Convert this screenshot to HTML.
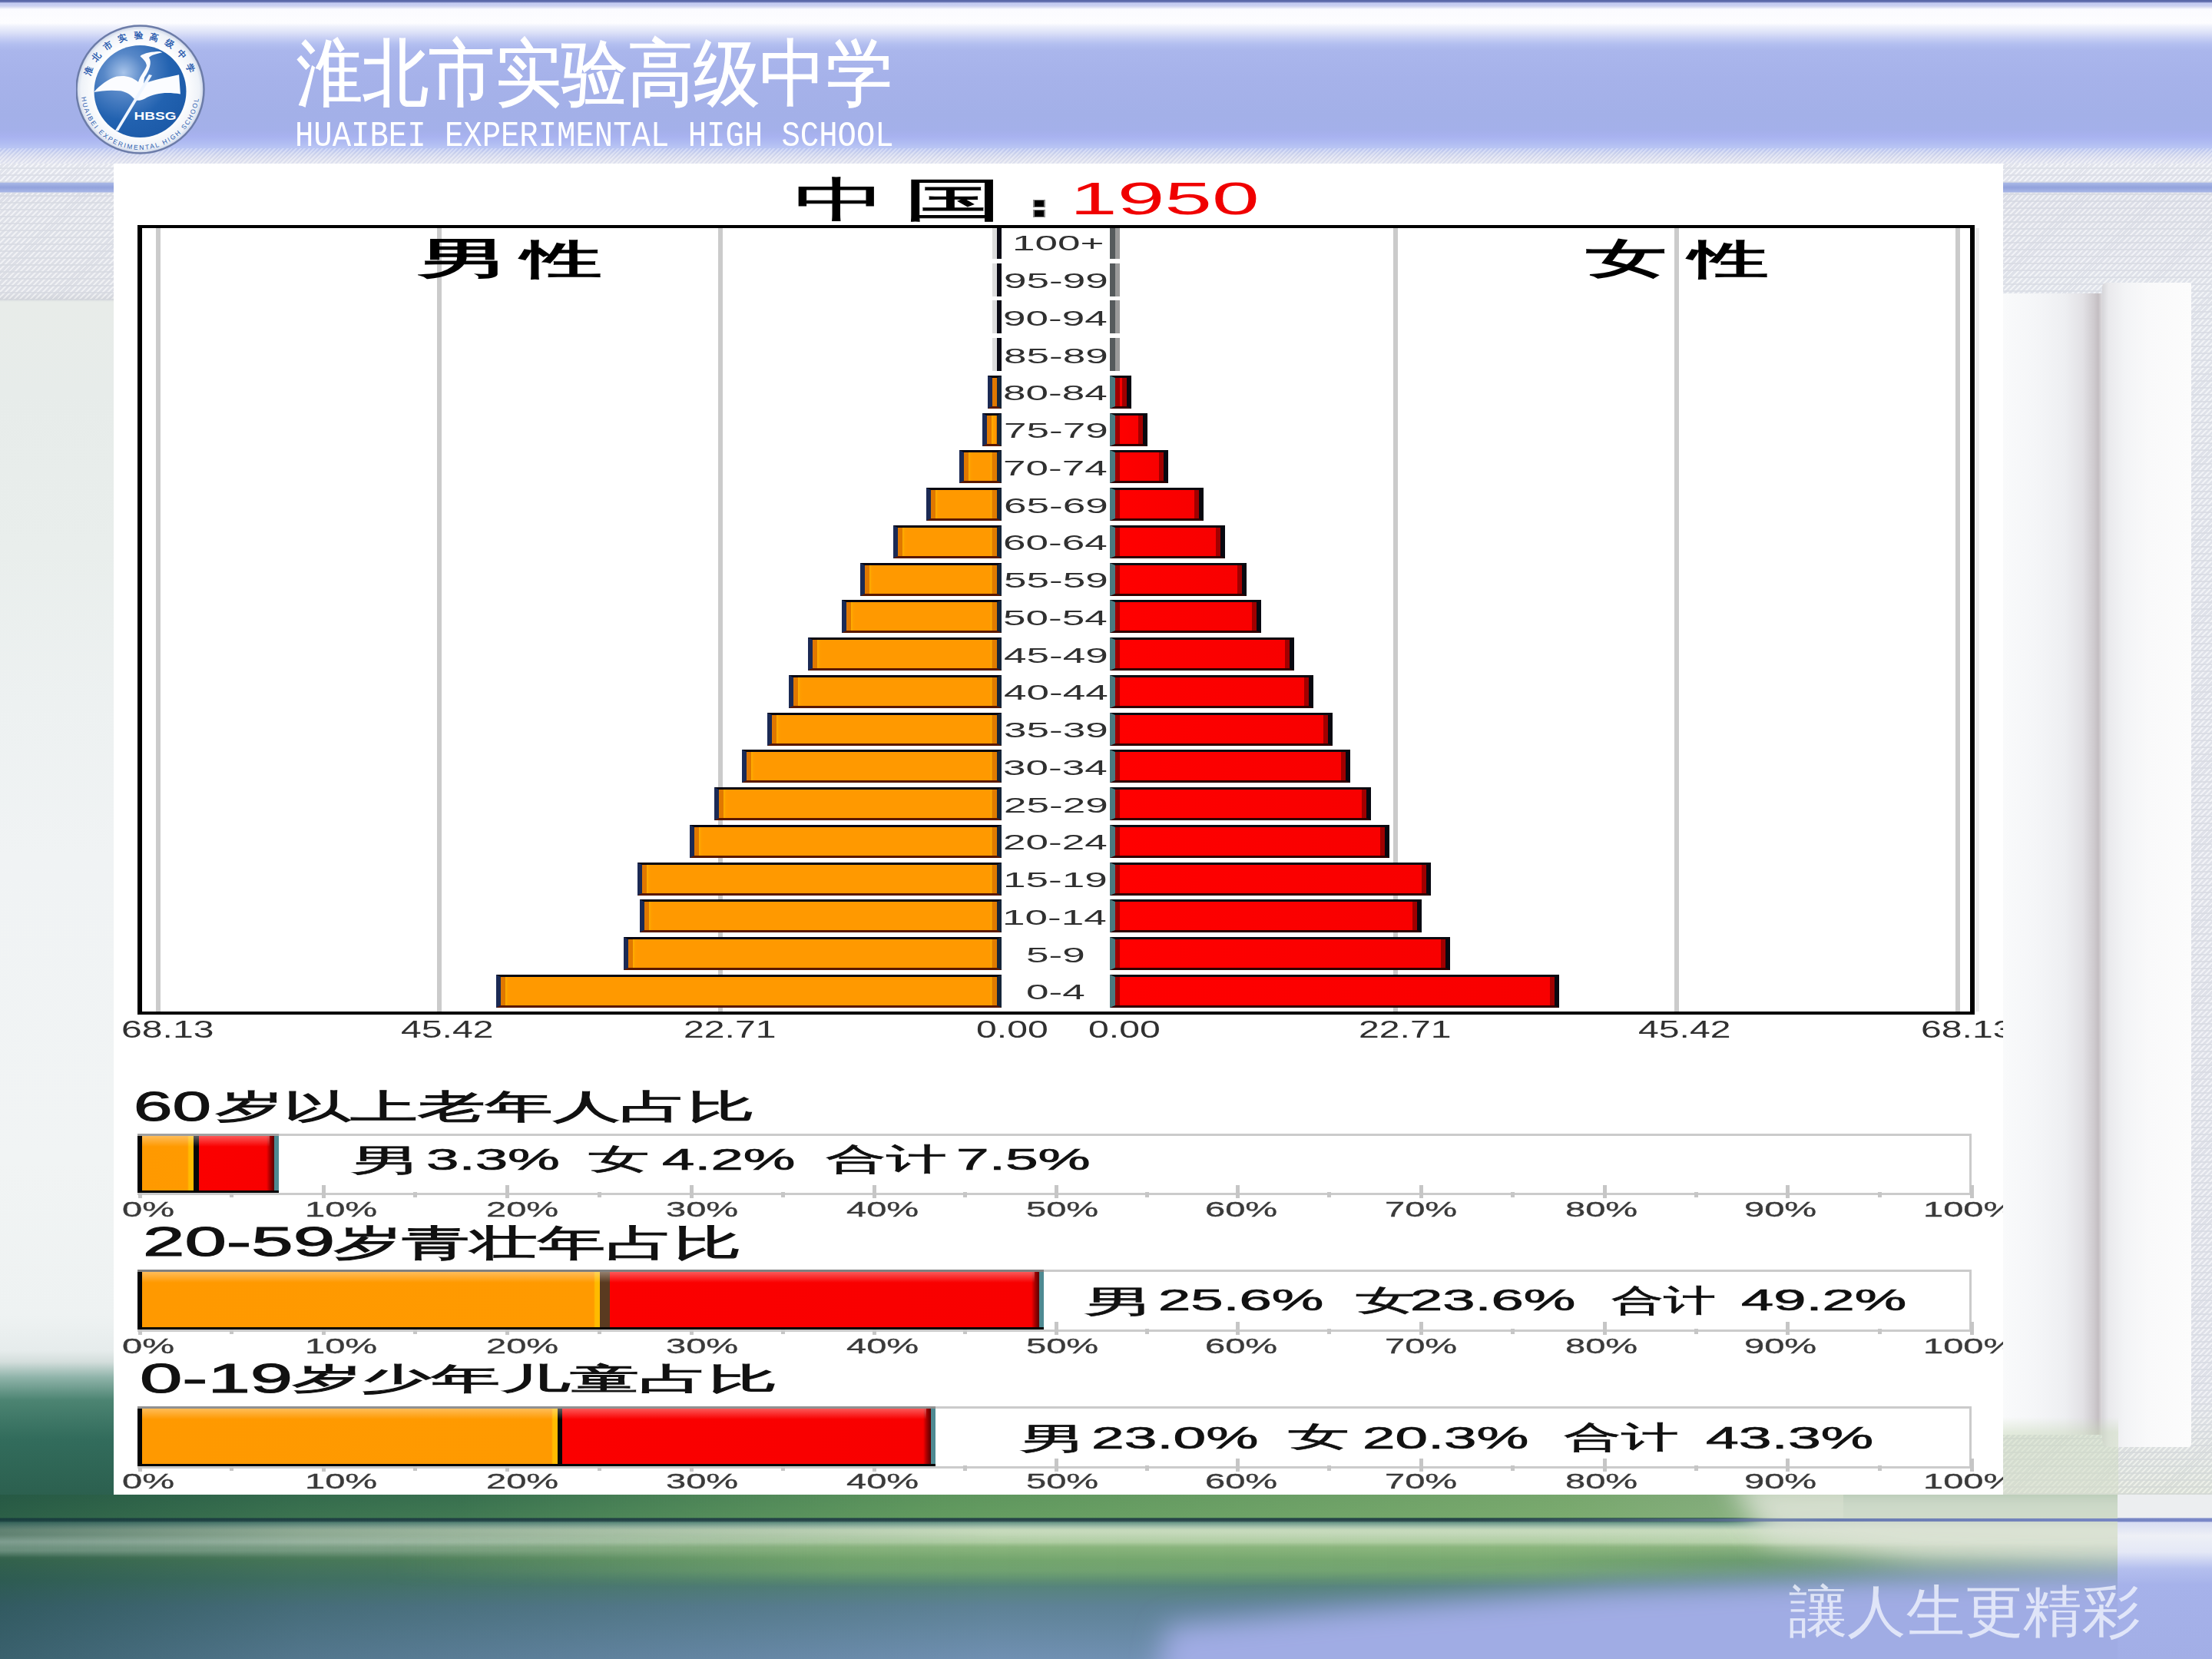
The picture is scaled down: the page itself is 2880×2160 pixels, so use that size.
<!DOCTYPE html>
<html><head><meta charset="utf-8"><title>中国 1950 人口金字塔</title>
<style>
html,body{margin:0;padding:0;}
body{width:2880px;height:2160px;position:relative;overflow:hidden;background:#e9ecee;font-family:"Liberation Sans",sans-serif;}
.a{position:absolute;}
.t{position:absolute;line-height:1;white-space:nowrap;transform-origin:0 0;}
/* header */
#hdr{left:0;top:0;width:2880px;height:216px;
 background:linear-gradient(to bottom,#5a68a8 0,#5a68a8 2px,#8890c8 3px,#c4ccf2 4px,#c8cef0 7px,#d8dcf2 9px,#fbfbff 12px,#fdfdff 30px,#f0f2fc 34px,#dde2f8 42px,#c6cef4 50px,#b2bef0 58px,#aab6ec 66px,#a6b2ea 100px,#a3b0e8 150px,#a4b0ea 170px,#a8b2f0 178px,#b0bcf2 186px,#bcc8f4 194px,#d0d6f0 200px,#e0e2f0 207px,#eceef4 216px);}
#hdrhatch{left:0;top:193px;width:2880px;height:22px;opacity:.3;
 background:repeating-linear-gradient(135deg,rgba(255,255,255,.9) 0 2px,rgba(180,188,220,.6) 2px 4px);}
/* side strips */
#lside{left:0;top:213px;width:148px;height:1733px;
 background:linear-gradient(to bottom,#eceef4 0,#e8eaf2 24px,#a9b8e6 25px,#92a2dc 31px,#a8b6e6 37px,#e2e4ec 38px,#e6e8ee 60px,#e3e5ea 168px,#d6d8dc 176px,#e8ece9 180px,#e7ecea 300px,#e9eeec 500px,#edf1f1 700px,#f0f3f4 900px,#f1f4f4 1300px,#eef2f2 1500px,#e6ecec 1545px,#d4dedc 1560px,#90b4aa 1580px,#4c8472 1610px,#326c5c 1660px,#2c604f 1733px);}
#rside{left:2608px;top:213px;width:272px;height:1733px;
 background:linear-gradient(to bottom,#eceef4 0,#e8eaf2 24px,#a9b8e6 25px,#92a2dc 31px,#a8b6e6 37px,#e2e4ec 38px,#e8eaf0 150px,#e6e8ee 1600px,#dfe4dc 1700px,#dde3d4 1733px);}
#hatchL,#hatchR,#hatchL2,#hatchR2{opacity:.45;background:repeating-linear-gradient(0deg,rgba(200,204,214,.8) 0 2px,rgba(255,255,255,0) 2px 9px),repeating-linear-gradient(135deg,rgba(255,255,255,.9) 0 2px,rgba(205,208,220,.7) 2px 5px);}
#hatchL{left:0;top:251px;width:148px;height:140px;}
#hatchL2{left:0;top:213px;width:148px;height:25px;}
#hatchR2{left:2608px;top:213px;width:272px;height:25px;}
#hatchR{left:2608px;top:251px;width:272px;height:1695px;}
#scA{left:2608px;top:382px;width:129px;height:1486px;
 background:linear-gradient(to right,#f9fafb 0,#f5f6f8 40px,#eeeff2 80px,#e2e1e5 104px,#cfcbcf 118px,#c4bec2 124px,#dedcdf 129px);}
#scB{left:2737px;top:368px;width:116px;height:1516px;border-radius:6px 2px 4px 10px;
 background:linear-gradient(to right,#d6d5d9 0,#e9e9ec 8px,#f3f4f6 30px,#f9f9fa 60px,#fcfcfc 116px);}
#scAg{left:2608px;top:1845px;width:150px;height:101px;
 background:linear-gradient(to bottom,rgba(200,216,184,0) 0,rgba(200,216,184,.45) 20px,rgba(214,222,204,.55) 101px);}
/* bottom band */
#botsvg{left:0;top:1946px;width:2880px;height:214px;}
/* white panel */
#panel{left:148px;top:213px;width:2460px;height:1733px;background:#fff;}
/* logo */
#logo{left:99px;top:31px;width:168px;height:171px;}
/* pyramid */
#frame{left:179px;top:293px;width:2380px;height:1020px;border:solid #000;border-width:4px 6px 4px 6px;}
.grid{position:absolute;top:297px;width:6px;height:1020px;background:#cbcbcb;}
.bl{position:absolute;box-sizing:border-box;border-style:solid;border-width:3px 6px 3px 6px;border-color:#050510 #16263a #5a1800 #1b2a55;
 background:linear-gradient(to right,#e07800 0,#e07800 6px,#ffb000 6px,#ff9c00 9px,#ff9900 12px,#ff9900 calc(100% - 9px),#ffb000 calc(100% - 7px),#e07c00 calc(100% - 6px));}
.br{position:absolute;box-sizing:border-box;border-style:solid;border-width:3px 6px 3px 7px;border-color:#0a0a10 #080810 #300000 #4a7a80;
 background:linear-gradient(to right,#a00000 0,#a00000 6px,#ff0000 6px,#f80000 calc(100% - 6px),#a00000 calc(100% - 6px));}
.zl{position:absolute;left:1292px;width:12px;background:linear-gradient(to right,#dcdcdc 0,#dcdcdc 6px,#0a0a14 6px);}
.zr{position:absolute;left:1445px;width:13px;background:linear-gradient(to right,#555a5c 0,#555a5c 7px,#9a9a9a 7px);}
/* bottom boxes */
.box{position:absolute;left:179px;width:2385px;border:3px solid #cbcbcb;border-left:0;}
.tk{position:absolute;width:5px;background:#c6c6c6;}
.sbo{position:absolute;left:179px;box-sizing:border-box;border-style:solid;border-width:3px 0 3px 6px;border-color:#6a6a6a #000 #000 #000;
 background:linear-gradient(to right,#ff9900 0,#ff9900 calc(100% - 6px),#ffb000 calc(100% - 6px),#ffb000 calc(100% - 4px),#1a1000 calc(100% - 4px));}
.sbr{position:absolute;box-sizing:border-box;border-style:solid;border-width:3px 6px 3px 4px;border-color:#6a1010 #4a7a80 #200000 #200000;
 background:linear-gradient(to right,#7a0000 0,#7a0000 4px,#ff0000 4px,#fa0000 calc(100% - 6px),#b00000 calc(100% - 6px));}
</style></head>
<body>
<div class="a" id="hdr"></div>
<div class="a" id="hdrhatch"></div>
<div class="a" id="lside"></div>
<div class="a" id="rside"></div>
<div class="a" id="hatchL"></div>
<div class="a" id="hatchR"></div>
<div class="a" id="hatchL2"></div>
<div class="a" id="hatchR2"></div>
<div class="a" id="scA"></div>
<div class="a" id="scB"></div>
<div class="a" id="scAg"></div>
<svg class="a" id="botsvg" viewBox="0 0 2880 214">
 <defs>
  <linearGradient id="bg1" x1="0" y1="0" x2="0" y2="1">
   <stop offset="0" stop-color="#447f56"/><stop offset="0.14" stop-color="#508c5b"/>
   <stop offset="0.145" stop-color="#243f44"/><stop offset="0.16" stop-color="#2e4c50"/>
   <stop offset="0.17" stop-color="#6a9888"/><stop offset="0.195" stop-color="#a4c0ac"/>
   <stop offset="0.215" stop-color="#c6dabc"/><stop offset="0.29" stop-color="#c0d6b6"/>
   <stop offset="0.32" stop-color="#8cb084"/><stop offset="0.40" stop-color="#5e9066"/>
   <stop offset="0.52" stop-color="#548474"/><stop offset="0.68" stop-color="#5e8296"/>
   <stop offset="1" stop-color="#7090b2"/>
  </linearGradient>
  <linearGradient id="lft" x1="0" y1="0" x2="1" y2="0">
   <stop offset="0" stop-color="#0e3a36" stop-opacity=".55"/><stop offset="0.3" stop-color="#0e3a36" stop-opacity=".3"/><stop offset="1" stop-color="#0e3a36" stop-opacity="0"/>
  </linearGradient>
  <filter id="bl40" x="-20%" y="-50%" width="140%" height="200%"><feGaussianBlur stdDeviation="35"/></filter>
  <filter id="bl20" x="-20%" y="-50%" width="140%" height="200%"><feGaussianBlur stdDeviation="18"/></filter>
  <filter id="bl6" x="-5%" y="-50%" width="110%" height="200%"><feGaussianBlur stdDeviation="5"/></filter>
 </defs>
 <rect width="2880" height="214" fill="url(#bg1)"/>
 <rect width="1300" height="214" fill="url(#lft)"/>
 <linearGradient id="lb" x1="0" y1="0" x2="1" y2="0"><stop offset="0" stop-color="#b8d0c8" stop-opacity=".35"/><stop offset="0.5" stop-color="#b8d0c8" stop-opacity=".2"/><stop offset="1" stop-color="#c4d8d0" stop-opacity="0"/></linearGradient>
 <rect x="0" y="52" width="1400" height="30" fill="url(#lb)" mask="url(#mlb)"/>
 <linearGradient id="lbv" x1="0" y1="0" x2="0" y2="1"><stop offset="0" stop-color="#fff" stop-opacity="0"/><stop offset="0.3" stop-color="#fff"/><stop offset="0.7" stop-color="#fff"/><stop offset="1" stop-color="#fff" stop-opacity="0"/></linearGradient>
 <mask id="mlb"><rect x="0" y="52" width="1400" height="30" fill="url(#lbv)"/></mask>
 <!-- brighter green middle -->
 <linearGradient id="gm" x1="0" y1="0" x2="1" y2="0"><stop offset="0" stop-color="#86b873" stop-opacity="0"/><stop offset="0.3" stop-color="#86b873" stop-opacity=".5"/><stop offset="0.75" stop-color="#8cbc78" stop-opacity=".55"/><stop offset="1" stop-color="#8cbc78" stop-opacity="0"/></linearGradient>
 <linearGradient id="gmv" x1="0" y1="0" x2="0" y2="1"><stop offset="0" stop-color="#fff" stop-opacity="0"/><stop offset="0.3" stop-color="#fff" stop-opacity="1"/><stop offset="0.7" stop-color="#fff" stop-opacity="1"/><stop offset="1" stop-color="#fff" stop-opacity="0"/></linearGradient>
 <mask id="mv"><rect x="0" y="50" width="2880" height="70" fill="url(#gmv)"/></mask>
 <rect x="500" y="50" width="2000" height="70" fill="url(#gm)" mask="url(#mv)"/>
 <linearGradient id="gt" x1="0" y1="0" x2="1" y2="0"><stop offset="0" stop-color="#7cb066" stop-opacity="0"/><stop offset="0.35" stop-color="#7cb066" stop-opacity=".45"/><stop offset="0.8" stop-color="#98c07c" stop-opacity=".6"/><stop offset="1" stop-color="#b8cca4" stop-opacity=".6"/></linearGradient>
 <rect x="600" y="0" width="1800" height="30" fill="url(#gt)"/>
 <!-- pale right area -->
 <path d="M2250 -20 L2880 -20 L2880 100 L2760 100 L2500 90 L2300 60 Z" fill="#dde3d6" opacity=".9" filter="url(#bl20)"/>
 <!-- periwinkle from bottom right -->
 <path d="M1500 280 L1520 172 L1750 150 L2100 122 L2450 106 L2880 96 L2880 280 Z" fill="#a0ace4" filter="url(#bl20)"/>
 <rect x="2757" y="0" width="123" height="214" fill="url(#rgt)"/>
 <linearGradient id="rgt" x1="0" y1="0" x2="0" y2="1">
   <stop offset="0" stop-color="#eceef0"/><stop offset="0.14" stop-color="#eceef0"/><stop offset="0.145" stop-color="#7a88c8"/><stop offset="0.16" stop-color="#7a88c8"/><stop offset="0.17" stop-color="#d8ddf2"/><stop offset="0.25" stop-color="#eef0f6"/><stop offset="0.35" stop-color="#e4e8f6"/><stop offset="0.45" stop-color="#b4bfee"/><stop offset="0.55" stop-color="#a6b2ea"/><stop offset="1" stop-color="#a2aee6"/>
 </linearGradient>
 <!-- line -->
 <linearGradient id="ln" x1="0" y1="0" x2="1" y2="0"><stop offset="0" stop-color="#56707a" stop-opacity="0"/><stop offset="0.5" stop-color="#6a7cb0"/><stop offset="1" stop-color="#7a88c8"/></linearGradient>
 <rect x="1900" y="31" width="980" height="4" fill="url(#ln)"/>
</svg>
<div class="a" id="panel"></div>

<svg class="a" id="logo" viewBox="0 0 168 171">
 <defs>
  <radialGradient id="lg" cx="0.32" cy="0.3" r="0.85">
   <stop offset="0" stop-color="#a8c4ea"/><stop offset="0.25" stop-color="#5888c8"/><stop offset="0.6" stop-color="#2262b0"/><stop offset="1" stop-color="#1a58a6"/>
  </radialGradient>
  <radialGradient id="lr" cx="0.5" cy="0.5" r="0.5">
   <stop offset="0.7" stop-color="#ffffff"/><stop offset="0.93" stop-color="#eef2f8"/><stop offset="1" stop-color="#c8d2e6"/>
  </radialGradient>
 </defs>
 <circle cx="83.5" cy="85.5" r="83" fill="url(#lr)" stroke="#6c7ca8" stroke-width="2.5"/>
 <circle cx="83.5" cy="88" r="60" fill="url(#lg)"/>
 <path d="M23.2,89.1 C31,80 43,71 53,68.6 C62,67 72,68 81,75.8 C83,68 92,58 91.9,54.1 C91,48 86,45 83.5,42 C88,38 100,36 108.8,36 L112.4,37.2 C104,39 97,41 95,44 C99,50 96,60 89,70 L88,78 C98,74 115,70 134.1,66.2 L135.9,91.5 C120,89 104,89 89.5,97.5 C84,100 79,101 76,98 C72,93 66,89 58.2,87.3 C45,86 33,87 23.2,89.1 Z" fill="#fbfcff"/>
 <path d="M51,139 L55,139.5 L99,67 L95,66 Z" fill="#f0f6ff"/>
 <text x="103" y="124.5" font-family="Liberation Sans" font-weight="bold" font-size="14" fill="#fff" text-anchor="middle" textLength="55" lengthAdjust="spacingAndGlyphs">HBSG</text>
 <path id="arcT" d="M17.8 69.4 A68 68 0 0 1 149.2 69.4" fill="none"/>
 <text font-family="Liberation Sans" font-size="11.5" fill="#2b5cae" font-weight="bold"><textPath href="#arcT" startOffset="1" textLength="172" lengthAdjust="spacing">淮北市实验高级中学</textPath></text>
 <path id="arcB" d="M6.8 93.7 A77 77 0 0 0 160.2 93.7" fill="none"/>
 <text font-family="Liberation Sans" font-size="8.5" fill="#2b5cae"><textPath href="#arcB" startOffset="2" textLength="222" lengthAdjust="spacing">HUAIBEI EXPERIMENTAL HIGH SCHOOL</textPath></text>
</svg>

<!-- pyramid gridlines -->
<div class="grid" style="left:203px"></div>
<div class="grid" style="left:569px"></div>
<div class="grid" style="left:935px"></div>
<div class="grid" style="left:1814px"></div>
<div class="grid" style="left:2180px"></div>
<div class="grid" style="left:2546px"></div>
<div class="a" style="left:2572px;top:297px;width:5px;height:1020px;background:#ececec"></div>
<div class="zl" style="top:293.7px;height:43px"></div>
<div class="zr" style="top:293.7px;height:43px"></div>
<div class="zl" style="top:342.5px;height:43px"></div>
<div class="zr" style="top:342.5px;height:43px"></div>
<div class="zl" style="top:391.2px;height:43px"></div>
<div class="zr" style="top:391.2px;height:43px"></div>
<div class="zl" style="top:440.0px;height:43px"></div>
<div class="zr" style="top:440.0px;height:43px"></div>
<div class="bl" style="left:1286px;top:488.7px;width:18px;height:43px"></div>
<div class="br" style="left:1445px;top:488.7px;width:28px;height:43px"></div>
<div class="bl" style="left:1279px;top:537.5px;width:25px;height:43px"></div>
<div class="br" style="left:1445px;top:537.5px;width:49px;height:43px"></div>
<div class="bl" style="left:1249px;top:586.3px;width:55px;height:43px"></div>
<div class="br" style="left:1445px;top:586.3px;width:76px;height:43px"></div>
<div class="bl" style="left:1206px;top:635.0px;width:98px;height:43px"></div>
<div class="br" style="left:1445px;top:635.0px;width:122px;height:43px"></div>
<div class="bl" style="left:1163px;top:683.8px;width:141px;height:43px"></div>
<div class="br" style="left:1445px;top:683.8px;width:150px;height:43px"></div>
<div class="bl" style="left:1120px;top:732.5px;width:184px;height:43px"></div>
<div class="br" style="left:1445px;top:732.5px;width:178px;height:43px"></div>
<div class="bl" style="left:1096px;top:781.3px;width:208px;height:43px"></div>
<div class="br" style="left:1445px;top:781.3px;width:197px;height:43px"></div>
<div class="bl" style="left:1052px;top:830.1px;width:252px;height:43px"></div>
<div class="br" style="left:1445px;top:830.1px;width:240px;height:43px"></div>
<div class="bl" style="left:1027px;top:878.8px;width:277px;height:43px"></div>
<div class="br" style="left:1445px;top:878.8px;width:265px;height:43px"></div>
<div class="bl" style="left:999px;top:927.6px;width:305px;height:43px"></div>
<div class="br" style="left:1445px;top:927.6px;width:290px;height:43px"></div>
<div class="bl" style="left:966px;top:976.3px;width:338px;height:43px"></div>
<div class="br" style="left:1445px;top:976.3px;width:313px;height:43px"></div>
<div class="bl" style="left:930px;top:1025.1px;width:374px;height:43px"></div>
<div class="br" style="left:1445px;top:1025.1px;width:340px;height:43px"></div>
<div class="bl" style="left:898px;top:1073.9px;width:406px;height:43px"></div>
<div class="br" style="left:1445px;top:1073.9px;width:364px;height:43px"></div>
<div class="bl" style="left:830px;top:1122.6px;width:474px;height:43px"></div>
<div class="br" style="left:1445px;top:1122.6px;width:418px;height:43px"></div>
<div class="bl" style="left:833px;top:1171.4px;width:471px;height:43px"></div>
<div class="br" style="left:1445px;top:1171.4px;width:406px;height:43px"></div>
<div class="bl" style="left:812px;top:1220.1px;width:492px;height:43px"></div>
<div class="br" style="left:1445px;top:1220.1px;width:443px;height:43px"></div>
<div class="bl" style="left:646px;top:1268.9px;width:658px;height:43px"></div>
<div class="br" style="left:1445px;top:1268.9px;width:585px;height:43px"></div>
<div class="a" id="frame"></div>
<!-- colon -->
<div class="a" style="left:1345px;top:260px;width:16px;height:10px;background:#888"></div>
<div class="a" style="left:1347px;top:261px;width:12px;height:8px;background:#000"></div>
<div class="a" style="left:1345px;top:273px;width:16px;height:10px;background:#888"></div>
<div class="a" style="left:1347px;top:274px;width:12px;height:8px;background:#000"></div>
<div class="box" style="top:1476px;height:74.0px"></div>
<div class="tk" style="left:179.5px;top:1543.0px;height:17px"></div>
<div class="tk" style="left:299.0px;top:1552.0px;height:7px"></div>
<div class="tk" style="left:418.5px;top:1543.0px;height:17px"></div>
<div class="tk" style="left:538.0px;top:1552.0px;height:7px"></div>
<div class="tk" style="left:657.5px;top:1543.0px;height:17px"></div>
<div class="tk" style="left:777.5px;top:1552.0px;height:7px"></div>
<div class="tk" style="left:897.5px;top:1543.0px;height:17px"></div>
<div class="tk" style="left:1016.5px;top:1552.0px;height:7px"></div>
<div class="tk" style="left:1135.5px;top:1543.0px;height:17px"></div>
<div class="tk" style="left:1254.0px;top:1552.0px;height:7px"></div>
<div class="tk" style="left:1372.5px;top:1543.0px;height:17px"></div>
<div class="tk" style="left:1490.5px;top:1552.0px;height:7px"></div>
<div class="tk" style="left:1608.5px;top:1543.0px;height:17px"></div>
<div class="tk" style="left:1728.0px;top:1552.0px;height:7px"></div>
<div class="tk" style="left:1847.5px;top:1543.0px;height:17px"></div>
<div class="tk" style="left:1967.0px;top:1552.0px;height:7px"></div>
<div class="tk" style="left:2086.5px;top:1543.0px;height:17px"></div>
<div class="tk" style="left:2205.5px;top:1552.0px;height:7px"></div>
<div class="tk" style="left:2324.5px;top:1543.0px;height:17px"></div>
<div class="tk" style="left:2444.5px;top:1552.0px;height:7px"></div>
<div class="tk" style="left:2564.5px;top:1543.0px;height:17px"></div>
<div class="a" style="left:179px;top:1476px;width:184px;height:77px;background:linear-gradient(to right,#050505 0,#050505 6px,#ff9900 6px,#ff9a00 65px,#ffbb00 67px,#ffbb00 73px,#080808 73px,#080808 80px,#fb0000 80px,#f80000 168px,#b00000 172px,#5a0000 178px,#4e8a92 178px,#4e8a92 184px)"></div>
<div class="a" style="left:185px;top:1479px;width:166px;height:14px;background:linear-gradient(to bottom,rgba(255,255,255,.35),rgba(255,255,255,0))"></div>
<div class="a" style="left:179px;top:1476px;width:184px;height:3px;background:#a0a0a0"></div>
<div class="a" style="left:179px;top:1550px;width:184px;height:3px;background:#060606"></div>
<div class="box" style="top:1653px;height:75.0px"></div>
<div class="tk" style="left:179.5px;top:1721.0px;height:17px"></div>
<div class="tk" style="left:299.0px;top:1730.0px;height:7px"></div>
<div class="tk" style="left:418.5px;top:1721.0px;height:17px"></div>
<div class="tk" style="left:538.0px;top:1730.0px;height:7px"></div>
<div class="tk" style="left:657.5px;top:1721.0px;height:17px"></div>
<div class="tk" style="left:777.5px;top:1730.0px;height:7px"></div>
<div class="tk" style="left:897.5px;top:1721.0px;height:17px"></div>
<div class="tk" style="left:1016.5px;top:1730.0px;height:7px"></div>
<div class="tk" style="left:1135.5px;top:1721.0px;height:17px"></div>
<div class="tk" style="left:1254.0px;top:1730.0px;height:7px"></div>
<div class="tk" style="left:1372.5px;top:1721.0px;height:17px"></div>
<div class="tk" style="left:1490.5px;top:1730.0px;height:7px"></div>
<div class="tk" style="left:1608.5px;top:1721.0px;height:17px"></div>
<div class="tk" style="left:1728.0px;top:1730.0px;height:7px"></div>
<div class="tk" style="left:1847.5px;top:1721.0px;height:17px"></div>
<div class="tk" style="left:1967.0px;top:1730.0px;height:7px"></div>
<div class="tk" style="left:2086.5px;top:1721.0px;height:17px"></div>
<div class="tk" style="left:2205.5px;top:1730.0px;height:7px"></div>
<div class="tk" style="left:2324.5px;top:1721.0px;height:17px"></div>
<div class="tk" style="left:2444.5px;top:1730.0px;height:7px"></div>
<div class="tk" style="left:2564.5px;top:1721.0px;height:17px"></div>
<div class="a" style="left:179px;top:1653px;width:1180px;height:78px;background:linear-gradient(to right,#050505 0,#050505 6px,#ff9900 6px,#ff9a00 594px,#ffbb00 596px,#ffbb00 602px,#5a3a20 602px,#5a3a20 615px,#fb0000 615px,#f80000 1164px,#b00000 1168px,#5a0000 1174px,#4e8a92 1174px,#4e8a92 1180px)"></div>
<div class="a" style="left:185px;top:1656px;width:1162px;height:14px;background:linear-gradient(to bottom,rgba(255,255,255,.35),rgba(255,255,255,0))"></div>
<div class="a" style="left:179px;top:1653px;width:1180px;height:3px;background:#808080"></div>
<div class="a" style="left:179px;top:1728px;width:1180px;height:3px;background:#060606"></div>
<div class="box" style="top:1831px;height:75.0px"></div>
<div class="tk" style="left:179.5px;top:1899.0px;height:17px"></div>
<div class="tk" style="left:299.0px;top:1908.0px;height:7px"></div>
<div class="tk" style="left:418.5px;top:1899.0px;height:17px"></div>
<div class="tk" style="left:538.0px;top:1908.0px;height:7px"></div>
<div class="tk" style="left:657.5px;top:1899.0px;height:17px"></div>
<div class="tk" style="left:777.5px;top:1908.0px;height:7px"></div>
<div class="tk" style="left:897.5px;top:1899.0px;height:17px"></div>
<div class="tk" style="left:1016.5px;top:1908.0px;height:7px"></div>
<div class="tk" style="left:1135.5px;top:1899.0px;height:17px"></div>
<div class="tk" style="left:1254.0px;top:1908.0px;height:7px"></div>
<div class="tk" style="left:1372.5px;top:1899.0px;height:17px"></div>
<div class="tk" style="left:1490.5px;top:1908.0px;height:7px"></div>
<div class="tk" style="left:1608.5px;top:1899.0px;height:17px"></div>
<div class="tk" style="left:1728.0px;top:1908.0px;height:7px"></div>
<div class="tk" style="left:1847.5px;top:1899.0px;height:17px"></div>
<div class="tk" style="left:1967.0px;top:1908.0px;height:7px"></div>
<div class="tk" style="left:2086.5px;top:1899.0px;height:17px"></div>
<div class="tk" style="left:2205.5px;top:1908.0px;height:7px"></div>
<div class="tk" style="left:2324.5px;top:1899.0px;height:17px"></div>
<div class="tk" style="left:2444.5px;top:1908.0px;height:7px"></div>
<div class="tk" style="left:2564.5px;top:1899.0px;height:17px"></div>
<div class="a" style="left:179px;top:1831px;width:1039px;height:78px;background:linear-gradient(to right,#050505 0,#050505 6px,#ff9900 6px,#ff9a00 539px,#ffbb00 541px,#ffbb00 547px,#060606 547px,#060606 553px,#fb0000 553px,#f80000 1023px,#b00000 1027px,#5a0000 1033px,#4e8a92 1033px,#4e8a92 1039px)"></div>
<div class="a" style="left:185px;top:1834px;width:1021px;height:14px;background:linear-gradient(to bottom,rgba(255,255,255,.35),rgba(255,255,255,0))"></div>
<div class="a" style="left:179px;top:1831px;width:1039px;height:3px;background:#909090"></div>
<div class="a" style="left:179px;top:1906px;width:1039px;height:3px;background:#060606"></div>
<div class="a" id="clip" style="left:0;top:0;width:2880px;height:2160px;clip-path:inset(213px 272px 214px 148px)">
<span class="t" style="left:1034.0px;top:230.2px;font-family:'Liberation Sans', sans-serif;font-weight:400;color:#000;font-size:61.29px;transform:scaleX(1.9499);-webkit-text-stroke:1.0px #000;">中</span>
<span class="t" style="left:1176.8px;top:230.8px;font-family:'Liberation Sans', sans-serif;font-weight:400;color:#000;font-size:60.00px;transform:scaleX(2.1341);-webkit-text-stroke:1.0px #000;">国</span>
<span class="t" style="left:1393.1px;top:229.1px;font-family:'Liberation Sans', sans-serif;font-weight:400;color:#f00000;font-size:59.15px;transform:scaleX(1.8747);">1950</span>
<span class="t" style="left:544.3px;top:309.7px;font-family:'Liberation Sans', sans-serif;font-weight:400;color:#000;font-size:55.56px;transform:scaleX(2.1333);-webkit-text-stroke:1.7px #000;">男</span>
<span class="t" style="left:679.1px;top:310.9px;font-family:'Liberation Sans', sans-serif;font-weight:400;color:#000;font-size:53.19px;transform:scaleX(1.9749);-webkit-text-stroke:1.7px #000;">性</span>
<span class="t" style="left:2064.9px;top:310.3px;font-family:'Liberation Sans', sans-serif;font-weight:400;color:#000;font-size:53.76px;transform:scaleX(1.9391);-webkit-text-stroke:1.7px #000;">女</span>
<span class="t" style="left:2199.1px;top:310.9px;font-family:'Liberation Sans', sans-serif;font-weight:400;color:#000;font-size:53.19px;transform:scaleX(1.9560);-webkit-text-stroke:1.7px #000;">性</span>
<span class="t" style="left:174.1px;top:1412.9px;font-family:'Liberation Sans', sans-serif;font-weight:400;color:#111;font-size:54.23px;transform:scaleX(1.6706);-webkit-text-stroke:1.1px #111;">60</span>
<span class="t" style="left:281.2px;top:1418.7px;font-family:'Liberation Sans', sans-serif;font-weight:400;color:#111;font-size:44.33px;transform:scaleX(1.9941);-webkit-text-stroke:1.1px #111;">岁以上老年人占比</span>
<span class="t" style="left:185.5px;top:1590.0px;font-family:'Liberation Sans', sans-serif;font-weight:400;color:#111;font-size:53.52px;transform:scaleX(1.8274);-webkit-text-stroke:1.1px #111;">20-59</span>
<span class="t" style="left:435.2px;top:1593.5px;font-family:'Liberation Sans', sans-serif;font-weight:400;color:#111;font-size:48.42px;transform:scaleX(1.8423);-webkit-text-stroke:1.1px #111;">岁青壮年占比</span>
<span class="t" style="left:182.0px;top:1768.0px;font-family:'Liberation Sans', sans-serif;font-weight:400;color:#111;font-size:53.52px;transform:scaleX(1.8586);-webkit-text-stroke:1.1px #111;">0-19</span>
<span class="t" style="left:381.2px;top:1776.0px;font-family:'Liberation Sans', sans-serif;font-weight:400;color:#111;font-size:39.60px;transform:scaleX(2.2554);-webkit-text-stroke:1.1px #111;">岁少年儿童占比</span>
<span class="t" style="left:456.3px;top:1490.5px;font-family:'Liberation Sans', sans-serif;font-weight:400;color:#111;font-size:41.11px;transform:scaleX(2.2523);-webkit-text-stroke:0.7px #111;">男</span>
<span class="t" style="left:554.9px;top:1490.1px;font-family:'Liberation Sans', sans-serif;font-weight:400;color:#111;font-size:39.44px;transform:scaleX(1.9364);-webkit-text-stroke:0.7px #111;">3.3%</span>
<span class="t" style="left:766.4px;top:1491.1px;font-family:'Liberation Sans', sans-serif;font-weight:400;color:#111;font-size:37.63px;transform:scaleX(2.0918);-webkit-text-stroke:0.7px #111;">女</span>
<span class="t" style="left:861.5px;top:1490.1px;font-family:'Liberation Sans', sans-serif;font-weight:400;color:#111;font-size:39.44px;transform:scaleX(1.9303);-webkit-text-stroke:0.7px #111;">4.2%</span>
<span class="t" style="left:1075.4px;top:1489.8px;font-family:'Liberation Sans', sans-serif;font-weight:400;color:#111;font-size:39.58px;transform:scaleX(1.9692);-webkit-text-stroke:0.7px #111;">合计</span>
<span class="t" style="left:1245.2px;top:1490.1px;font-family:'Liberation Sans', sans-serif;font-weight:400;color:#111;font-size:39.44px;transform:scaleX(1.9452);-webkit-text-stroke:0.7px #111;">7.5%</span>
<span class="t" style="left:1411.3px;top:1674.5px;font-family:'Liberation Sans', sans-serif;font-weight:400;color:#111;font-size:41.11px;transform:scaleX(2.2222);-webkit-text-stroke:0.7px #111;">男</span>
<span class="t" style="left:1508.2px;top:1674.3px;font-family:'Liberation Sans', sans-serif;font-weight:400;color:#111;font-size:38.03px;transform:scaleX(1.9985);-webkit-text-stroke:0.7px #111;">25.6%</span>
<span class="t" style="left:1764.5px;top:1675.1px;font-family:'Liberation Sans', sans-serif;font-weight:400;color:#111;font-size:37.63px;transform:scaleX(2.0353);-webkit-text-stroke:0.7px #111;">女</span>
<span class="t" style="left:1836.2px;top:1674.3px;font-family:'Liberation Sans', sans-serif;font-weight:400;color:#111;font-size:38.03px;transform:scaleX(1.9985);-webkit-text-stroke:0.7px #111;">23.6%</span>
<span class="t" style="left:2097.7px;top:1673.8px;font-family:'Liberation Sans', sans-serif;font-weight:400;color:#111;font-size:39.58px;transform:scaleX(1.6972);-webkit-text-stroke:0.7px #111;">合计</span>
<span class="t" style="left:2266.5px;top:1674.3px;font-family:'Liberation Sans', sans-serif;font-weight:400;color:#111;font-size:38.03px;transform:scaleX(1.9959);-webkit-text-stroke:0.7px #111;">49.2%</span>
<span class="t" style="left:1326.5px;top:1852.6px;font-family:'Liberation Sans', sans-serif;font-weight:400;color:#111;font-size:40.00px;transform:scaleX(2.1914);-webkit-text-stroke:0.7px #111;">男</span>
<span class="t" style="left:1421.2px;top:1851.9px;font-family:'Liberation Sans', sans-serif;font-weight:400;color:#111;font-size:40.85px;transform:scaleX(1.8785);-webkit-text-stroke:0.7px #111;">23.0%</span>
<span class="t" style="left:1677.4px;top:1853.2px;font-family:'Liberation Sans', sans-serif;font-weight:400;color:#111;font-size:36.56px;transform:scaleX(2.1533);-webkit-text-stroke:0.7px #111;">女</span>
<span class="t" style="left:1774.2px;top:1851.9px;font-family:'Liberation Sans', sans-serif;font-weight:400;color:#111;font-size:40.85px;transform:scaleX(1.8696);-webkit-text-stroke:0.7px #111;">20.3%</span>
<span class="t" style="left:2035.5px;top:1851.8px;font-family:'Liberation Sans', sans-serif;font-weight:400;color:#111;font-size:39.58px;transform:scaleX(1.8656);-webkit-text-stroke:0.7px #111;">合计</span>
<span class="t" style="left:2220.5px;top:1851.9px;font-family:'Liberation Sans', sans-serif;font-weight:400;color:#111;font-size:40.85px;transform:scaleX(1.8846);-webkit-text-stroke:0.7px #111;">43.3%</span>
<span class="t" style="left:1317.8px;top:304.2px;font-family:'Liberation Sans', sans-serif;font-weight:400;color:#303030;font-size:26.76px;transform:scaleX(1.9838);">100+</span>
<span class="t" style="left:1306.5px;top:352.9px;font-family:'Liberation Sans', sans-serif;font-weight:400;color:#303030;font-size:26.76px;transform:scaleX(1.9838);">95-99</span>
<span class="t" style="left:1306.0px;top:401.7px;font-family:'Liberation Sans', sans-serif;font-weight:400;color:#303030;font-size:26.76px;transform:scaleX(1.9838);">90-94</span>
<span class="t" style="left:1306.8px;top:450.5px;font-family:'Liberation Sans', sans-serif;font-weight:400;color:#303030;font-size:26.76px;transform:scaleX(1.9838);">85-89</span>
<span class="t" style="left:1306.3px;top:499.2px;font-family:'Liberation Sans', sans-serif;font-weight:400;color:#303030;font-size:26.76px;transform:scaleX(1.9838);">80-84</span>
<span class="t" style="left:1306.5px;top:548.0px;font-family:'Liberation Sans', sans-serif;font-weight:400;color:#303030;font-size:26.76px;transform:scaleX(1.9838);">75-79</span>
<span class="t" style="left:1306.0px;top:596.7px;font-family:'Liberation Sans', sans-serif;font-weight:400;color:#303030;font-size:26.76px;transform:scaleX(1.9838);">70-74</span>
<span class="t" style="left:1306.5px;top:645.5px;font-family:'Liberation Sans', sans-serif;font-weight:400;color:#303030;font-size:26.76px;transform:scaleX(1.9838);">65-69</span>
<span class="t" style="left:1306.0px;top:694.3px;font-family:'Liberation Sans', sans-serif;font-weight:400;color:#303030;font-size:26.76px;transform:scaleX(1.9838);">60-64</span>
<span class="t" style="left:1306.8px;top:743.0px;font-family:'Liberation Sans', sans-serif;font-weight:400;color:#303030;font-size:26.76px;transform:scaleX(1.9838);">55-59</span>
<span class="t" style="left:1306.3px;top:791.8px;font-family:'Liberation Sans', sans-serif;font-weight:400;color:#303030;font-size:26.76px;transform:scaleX(1.9838);">50-54</span>
<span class="t" style="left:1307.3px;top:840.5px;font-family:'Liberation Sans', sans-serif;font-weight:400;color:#303030;font-size:26.76px;transform:scaleX(1.9838);">45-49</span>
<span class="t" style="left:1306.8px;top:889.3px;font-family:'Liberation Sans', sans-serif;font-weight:400;color:#303030;font-size:26.76px;transform:scaleX(1.9838);">40-44</span>
<span class="t" style="left:1306.8px;top:938.1px;font-family:'Liberation Sans', sans-serif;font-weight:400;color:#303030;font-size:26.76px;transform:scaleX(1.9838);">35-39</span>
<span class="t" style="left:1306.3px;top:986.8px;font-family:'Liberation Sans', sans-serif;font-weight:400;color:#303030;font-size:26.76px;transform:scaleX(1.9838);">30-34</span>
<span class="t" style="left:1306.5px;top:1035.6px;font-family:'Liberation Sans', sans-serif;font-weight:400;color:#303030;font-size:26.76px;transform:scaleX(1.9838);">25-29</span>
<span class="t" style="left:1306.0px;top:1084.3px;font-family:'Liberation Sans', sans-serif;font-weight:400;color:#303030;font-size:26.76px;transform:scaleX(1.9838);">20-24</span>
<span class="t" style="left:1305.8px;top:1133.1px;font-family:'Liberation Sans', sans-serif;font-weight:400;color:#303030;font-size:26.76px;transform:scaleX(1.9838);">15-19</span>
<span class="t" style="left:1305.2px;top:1181.9px;font-family:'Liberation Sans', sans-serif;font-weight:400;color:#303030;font-size:26.76px;transform:scaleX(1.9838);">10-14</span>
<span class="t" style="left:1336.3px;top:1230.6px;font-family:'Liberation Sans', sans-serif;font-weight:400;color:#303030;font-size:26.76px;transform:scaleX(1.9838);">5-9</span>
<span class="t" style="left:1335.7px;top:1279.4px;font-family:'Liberation Sans', sans-serif;font-weight:400;color:#303030;font-size:26.76px;transform:scaleX(1.9838);">0-4</span>
<span class="t" style="left:157.6px;top:1325.4px;font-family:'Liberation Sans', sans-serif;font-weight:400;color:#303030;font-size:30.99px;transform:scaleX(1.5539);">68.13</span>
<span class="t" style="left:522.0px;top:1325.4px;font-family:'Liberation Sans', sans-serif;font-weight:400;color:#303030;font-size:30.99px;transform:scaleX(1.5539);">45.42</span>
<span class="t" style="left:889.6px;top:1325.4px;font-family:'Liberation Sans', sans-serif;font-weight:400;color:#303030;font-size:30.99px;transform:scaleX(1.5539);">22.71</span>
<span class="t" style="left:1270.6px;top:1325.4px;font-family:'Liberation Sans', sans-serif;font-weight:400;color:#303030;font-size:30.99px;transform:scaleX(1.5539);">0.00</span>
<span class="t" style="left:1417.1px;top:1325.4px;font-family:'Liberation Sans', sans-serif;font-weight:400;color:#303030;font-size:30.99px;transform:scaleX(1.5539);">0.00</span>
<span class="t" style="left:1768.6px;top:1325.4px;font-family:'Liberation Sans', sans-serif;font-weight:400;color:#303030;font-size:30.99px;transform:scaleX(1.5539);">22.71</span>
<span class="t" style="left:2133.0px;top:1325.4px;font-family:'Liberation Sans', sans-serif;font-weight:400;color:#303030;font-size:30.99px;transform:scaleX(1.5539);">45.42</span>
<span class="t" style="left:2500.6px;top:1325.4px;font-family:'Liberation Sans', sans-serif;font-weight:400;color:#303030;font-size:30.99px;transform:scaleX(1.5539);">68.13</span>
<span class="t" style="left:159.1px;top:1562.0px;font-family:'Liberation Sans', sans-serif;font-weight:400;color:#3a3a3a;font-size:26.76px;transform:scaleX(1.7597);-webkit-text-stroke:0.3px #3a3a3a;">0%</span>
<span class="t" style="left:397.2px;top:1562.0px;font-family:'Liberation Sans', sans-serif;font-weight:400;color:#3a3a3a;font-size:26.76px;transform:scaleX(1.7597);-webkit-text-stroke:0.3px #3a3a3a;">10%</span>
<span class="t" style="left:632.7px;top:1562.0px;font-family:'Liberation Sans', sans-serif;font-weight:400;color:#3a3a3a;font-size:26.76px;transform:scaleX(1.7597);-webkit-text-stroke:0.3px #3a3a3a;">20%</span>
<span class="t" style="left:867.3px;top:1562.0px;font-family:'Liberation Sans', sans-serif;font-weight:400;color:#3a3a3a;font-size:26.76px;transform:scaleX(1.7597);-webkit-text-stroke:0.3px #3a3a3a;">30%</span>
<span class="t" style="left:1102.4px;top:1562.0px;font-family:'Liberation Sans', sans-serif;font-weight:400;color:#3a3a3a;font-size:26.76px;transform:scaleX(1.7597);-webkit-text-stroke:0.3px #3a3a3a;">40%</span>
<span class="t" style="left:1335.5px;top:1562.0px;font-family:'Liberation Sans', sans-serif;font-weight:400;color:#3a3a3a;font-size:26.76px;transform:scaleX(1.7597);-webkit-text-stroke:0.3px #3a3a3a;">50%</span>
<span class="t" style="left:1569.1px;top:1562.0px;font-family:'Liberation Sans', sans-serif;font-weight:400;color:#3a3a3a;font-size:26.76px;transform:scaleX(1.7597);-webkit-text-stroke:0.3px #3a3a3a;">60%</span>
<span class="t" style="left:1803.2px;top:1562.0px;font-family:'Liberation Sans', sans-serif;font-weight:400;color:#3a3a3a;font-size:26.76px;transform:scaleX(1.7597);-webkit-text-stroke:0.3px #3a3a3a;">70%</span>
<span class="t" style="left:2037.8px;top:1562.0px;font-family:'Liberation Sans', sans-serif;font-weight:400;color:#3a3a3a;font-size:26.76px;transform:scaleX(1.7597);-webkit-text-stroke:0.3px #3a3a3a;">80%</span>
<span class="t" style="left:2271.4px;top:1562.0px;font-family:'Liberation Sans', sans-serif;font-weight:400;color:#3a3a3a;font-size:26.76px;transform:scaleX(1.7597);-webkit-text-stroke:0.3px #3a3a3a;">90%</span>
<span class="t" style="left:2504.1px;top:1562.0px;font-family:'Liberation Sans', sans-serif;font-weight:400;color:#3a3a3a;font-size:26.76px;transform:scaleX(1.7597);-webkit-text-stroke:0.3px #3a3a3a;">100%</span>
<span class="t" style="left:159.1px;top:1739.5px;font-family:'Liberation Sans', sans-serif;font-weight:400;color:#3a3a3a;font-size:26.76px;transform:scaleX(1.7597);-webkit-text-stroke:0.3px #3a3a3a;">0%</span>
<span class="t" style="left:397.2px;top:1739.5px;font-family:'Liberation Sans', sans-serif;font-weight:400;color:#3a3a3a;font-size:26.76px;transform:scaleX(1.7597);-webkit-text-stroke:0.3px #3a3a3a;">10%</span>
<span class="t" style="left:632.7px;top:1739.5px;font-family:'Liberation Sans', sans-serif;font-weight:400;color:#3a3a3a;font-size:26.76px;transform:scaleX(1.7597);-webkit-text-stroke:0.3px #3a3a3a;">20%</span>
<span class="t" style="left:867.3px;top:1739.5px;font-family:'Liberation Sans', sans-serif;font-weight:400;color:#3a3a3a;font-size:26.76px;transform:scaleX(1.7597);-webkit-text-stroke:0.3px #3a3a3a;">30%</span>
<span class="t" style="left:1102.4px;top:1739.5px;font-family:'Liberation Sans', sans-serif;font-weight:400;color:#3a3a3a;font-size:26.76px;transform:scaleX(1.7597);-webkit-text-stroke:0.3px #3a3a3a;">40%</span>
<span class="t" style="left:1335.5px;top:1739.5px;font-family:'Liberation Sans', sans-serif;font-weight:400;color:#3a3a3a;font-size:26.76px;transform:scaleX(1.7597);-webkit-text-stroke:0.3px #3a3a3a;">50%</span>
<span class="t" style="left:1569.1px;top:1739.5px;font-family:'Liberation Sans', sans-serif;font-weight:400;color:#3a3a3a;font-size:26.76px;transform:scaleX(1.7597);-webkit-text-stroke:0.3px #3a3a3a;">60%</span>
<span class="t" style="left:1803.2px;top:1739.5px;font-family:'Liberation Sans', sans-serif;font-weight:400;color:#3a3a3a;font-size:26.76px;transform:scaleX(1.7597);-webkit-text-stroke:0.3px #3a3a3a;">70%</span>
<span class="t" style="left:2037.8px;top:1739.5px;font-family:'Liberation Sans', sans-serif;font-weight:400;color:#3a3a3a;font-size:26.76px;transform:scaleX(1.7597);-webkit-text-stroke:0.3px #3a3a3a;">80%</span>
<span class="t" style="left:2271.4px;top:1739.5px;font-family:'Liberation Sans', sans-serif;font-weight:400;color:#3a3a3a;font-size:26.76px;transform:scaleX(1.7597);-webkit-text-stroke:0.3px #3a3a3a;">90%</span>
<span class="t" style="left:2504.1px;top:1739.5px;font-family:'Liberation Sans', sans-serif;font-weight:400;color:#3a3a3a;font-size:26.76px;transform:scaleX(1.7597);-webkit-text-stroke:0.3px #3a3a3a;">100%</span>
<span class="t" style="left:159.1px;top:1916.0px;font-family:'Liberation Sans', sans-serif;font-weight:400;color:#3a3a3a;font-size:26.76px;transform:scaleX(1.7597);-webkit-text-stroke:0.3px #3a3a3a;">0%</span>
<span class="t" style="left:397.2px;top:1916.0px;font-family:'Liberation Sans', sans-serif;font-weight:400;color:#3a3a3a;font-size:26.76px;transform:scaleX(1.7597);-webkit-text-stroke:0.3px #3a3a3a;">10%</span>
<span class="t" style="left:632.7px;top:1916.0px;font-family:'Liberation Sans', sans-serif;font-weight:400;color:#3a3a3a;font-size:26.76px;transform:scaleX(1.7597);-webkit-text-stroke:0.3px #3a3a3a;">20%</span>
<span class="t" style="left:867.3px;top:1916.0px;font-family:'Liberation Sans', sans-serif;font-weight:400;color:#3a3a3a;font-size:26.76px;transform:scaleX(1.7597);-webkit-text-stroke:0.3px #3a3a3a;">30%</span>
<span class="t" style="left:1102.4px;top:1916.0px;font-family:'Liberation Sans', sans-serif;font-weight:400;color:#3a3a3a;font-size:26.76px;transform:scaleX(1.7597);-webkit-text-stroke:0.3px #3a3a3a;">40%</span>
<span class="t" style="left:1335.5px;top:1916.0px;font-family:'Liberation Sans', sans-serif;font-weight:400;color:#3a3a3a;font-size:26.76px;transform:scaleX(1.7597);-webkit-text-stroke:0.3px #3a3a3a;">50%</span>
<span class="t" style="left:1569.1px;top:1916.0px;font-family:'Liberation Sans', sans-serif;font-weight:400;color:#3a3a3a;font-size:26.76px;transform:scaleX(1.7597);-webkit-text-stroke:0.3px #3a3a3a;">60%</span>
<span class="t" style="left:1803.2px;top:1916.0px;font-family:'Liberation Sans', sans-serif;font-weight:400;color:#3a3a3a;font-size:26.76px;transform:scaleX(1.7597);-webkit-text-stroke:0.3px #3a3a3a;">70%</span>
<span class="t" style="left:2037.8px;top:1916.0px;font-family:'Liberation Sans', sans-serif;font-weight:400;color:#3a3a3a;font-size:26.76px;transform:scaleX(1.7597);-webkit-text-stroke:0.3px #3a3a3a;">80%</span>
<span class="t" style="left:2271.4px;top:1916.0px;font-family:'Liberation Sans', sans-serif;font-weight:400;color:#3a3a3a;font-size:26.76px;transform:scaleX(1.7597);-webkit-text-stroke:0.3px #3a3a3a;">90%</span>
<span class="t" style="left:2504.1px;top:1916.0px;font-family:'Liberation Sans', sans-serif;font-weight:400;color:#3a3a3a;font-size:26.76px;transform:scaleX(1.7597);-webkit-text-stroke:0.3px #3a3a3a;">100%</span>
</div>
<span class="t" style="left:386.3px;top:48.9px;font-family:'Liberation Serif', serif;font-weight:400;color:#ffffff;font-size:94.90px;transform:scaleX(0.9074);-webkit-text-stroke:1.2px #fff;transform-origin:0 0;">淮北市实验高级中学</span>
<span class="t" style="left:383.8px;top:155.9px;font-family:'Liberation Mono', monospace;font-weight:400;color:#ffffff;font-size:45.59px;transform:scaleX(0.8908);">HUAIBEI EXPERIMENTAL HIGH SCHOOL</span>
<span class="t" style="left:2329.2px;top:2061.7px;font-family:'Liberation Serif', serif;font-weight:300;color:rgba(246,248,255,.75);font-size:73.00px;transform:scaleX(1.0458);">讓人生更精彩</span>
</body></html>
